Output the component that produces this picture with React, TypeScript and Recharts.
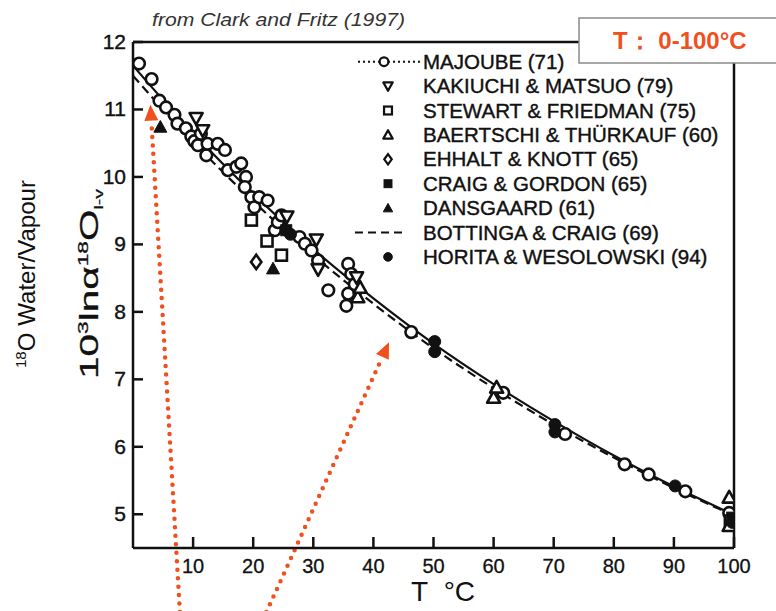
import React from 'react';
import { ComposedChart, Line, Scatter, XAxis, YAxis, Legend, ReferenceLine } from 'recharts';

// ---- data (T °C, 10^3 ln alpha) ----
const xTicks = [10, 20, 30, 40, 50, 60, 70, 80, 90, 100];
const yTicks = [5, 6, 7, 8, 9, 10, 11, 12];
const rightTicks = [6, 7, 8, 9, 10, 11];

const majoubeCurve = [
  { x: 0, y: 11.65 }, { x: 10, y: 10.65 }, { x: 20, y: 9.75 }, { x: 30, y: 8.93 },
  { x: 40, y: 8.2 }, { x: 50, y: 7.53 }, { x: 60, y: 6.93 }, { x: 70, y: 6.38 },
  { x: 80, y: 5.87 }, { x: 90, y: 5.41 }, { x: 100, y: 4.99 },
];
const bottingaCurve = [
  { x: 0, y: 11.5 }, { x: 10, y: 10.52 }, { x: 20, y: 9.64 }, { x: 30, y: 8.84 },
  { x: 40, y: 8.12 }, { x: 50, y: 7.46 }, { x: 60, y: 6.87 }, { x: 70, y: 6.33 },
  { x: 80, y: 5.84 }, { x: 90, y: 5.39 }, { x: 100, y: 4.98 },
];
const majoubePts = [
  { x: 1.0, y: 11.68 }, { x: 3.1, y: 11.45 }, { x: 4.4, y: 11.13 }, { x: 5.5, y: 11.03 },
  { x: 6.9, y: 10.92 }, { x: 7.4, y: 10.79 }, { x: 8.8, y: 10.72 }, { x: 9.7, y: 10.6 },
  { x: 10.2, y: 10.53 }, { x: 10.8, y: 10.47 }, { x: 11.3, y: 10.64 }, { x: 12.2, y: 10.32 },
  { x: 12.4, y: 10.49 }, { x: 14.1, y: 10.49 }, { x: 15.3, y: 10.4 }, { x: 15.8, y: 10.1 },
  { x: 17.2, y: 10.15 }, { x: 18.0, y: 10.2 }, { x: 18.8, y: 10.0 }, { x: 18.6, y: 9.85 },
  { x: 19.7, y: 9.7 }, { x: 20.2, y: 9.55 }, { x: 21.0, y: 9.7 }, { x: 22.4, y: 9.65 },
  { x: 23.6, y: 9.21 }, { x: 24.1, y: 9.33 }, { x: 24.7, y: 9.43 }, { x: 27.7, y: 9.11 },
  { x: 28.6, y: 9.01 }, { x: 29.7, y: 8.91 }, { x: 30.8, y: 8.76 }, { x: 32.5, y: 8.32 },
  { x: 35.8, y: 8.71 }, { x: 36.3, y: 8.56 }, { x: 35.8, y: 8.27 }, { x: 35.5, y: 8.09 },
  { x: 36.9, y: 8.41 }, { x: 46.3, y: 7.7 }, { x: 61.6, y: 6.8 }, { x: 71.9, y: 6.19 },
  { x: 81.8, y: 5.74 }, { x: 85.8, y: 5.59 }, { x: 91.9, y: 5.34 }, { x: 99.2, y: 5.02 },
];
const kakiuchiPts = [
  { x: 10.5, y: 10.87 }, { x: 11.6, y: 10.69 }, { x: 25.6, y: 9.41 }, { x: 30.5, y: 9.07 },
  { x: 30.8, y: 8.63 }, { x: 37.2, y: 8.51 },
];
const stewartPts = [
  { x: 19.7, y: 9.36 }, { x: 22.3, y: 9.05 }, { x: 24.7, y: 8.84 }, { x: 99.4, y: 4.9 },
];
const baertschiPts = [
  { x: 37.4, y: 8.22 }, { x: 37.8, y: 8.36 }, { x: 60.0, y: 6.73 }, { x: 60.5, y: 6.88 },
  { x: 99.2, y: 5.25 }, { x: 99.2, y: 4.83 },
];
const ehhaltPts = [{ x: 20.5, y: 8.74 }];
const craigPts = [{ x: 25.5, y: 9.21 }, { x: 99.7, y: 4.95 }];
const dansgaardPts = [{ x: 4.55, y: 10.74 }, { x: 23.3, y: 8.64 }];
const horitaPts = [
  { x: 26.2, y: 9.15 }, { x: 50.2, y: 7.56 }, { x: 50.2, y: 7.41 }, { x: 70.2, y: 6.33 },
  { x: 70.2, y: 6.22 }, { x: 90.2, y: 5.42 }, { x: 99.7, y: 4.88 },
];
const legendNames = [
  'MAJOUBE (71)', 'KAKIUCHI & MATSUO (79)', 'STEWART & FRIEDMAN (75)',
  'BAERTSCHI & THÜRKAUF (60)', 'EHHALT & KNOTT (65)', 'CRAIG & GORDON (65)',
  'DANSGAARD (61)', 'BOTTINGA & CRAIG (69)', 'HORITA & WESOLOWSKI (94)',
];
const arrowA = [{ x: 7.8, y: 3.55 }, { x: 2.9, y: 11.07 }];
const arrowB = [{ x: 22.2, y: 3.55 }, { x: 42.6, y: 7.55 }];

// ---- styles ----
const INK = '#111';
const RED = '#f0501e';
const FONT = '"Liberation Sans", Arial, sans-serif';

type MK = 'oc' | 'dt' | 'os' | 'ut' | 'od' | 'fs' | 'ft' | 'fc';

const drawMarker = (kind: MK, cx: number, cy: number, s = 1, key?: string) => {
  const sw = 2.6 * (s < 1 ? 0.85 : 1);
  const w = 6.5 * s;
  switch (kind) {
    case 'oc':
      return <circle key={key} cx={cx} cy={cy} r={5.8 * s} fill="#fff" stroke={INK} strokeWidth={sw} />;
    case 'fc':
      return <circle key={key} cx={cx} cy={cy} r={6 * s} fill={INK} stroke={INK} strokeWidth={1} />;
    case 'dt':
      return <polygon key={key} points={`${cx - w},${cy - w * 0.8} ${cx + w},${cy - w * 0.8} ${cx},${cy + w}`} fill="#fff" stroke={INK} strokeWidth={sw} strokeLinejoin="round" />;
    case 'ut':
      return <polygon key={key} points={`${cx - w},${cy + w * 0.8} ${cx + w},${cy + w * 0.8} ${cx},${cy - w}`} fill="#fff" stroke={INK} strokeWidth={sw} strokeLinejoin="round" />;
    case 'ft':
      return <polygon key={key} points={`${cx - w},${cy + w * 0.8} ${cx + w},${cy + w * 0.8} ${cx},${cy - w}`} fill={INK} stroke={INK} strokeWidth={1} strokeLinejoin="round" />;
    case 'os':
      return <rect key={key} x={cx - 5.5 * s} y={cy - 5.5 * s} width={11 * s} height={11 * s} fill="#fff" stroke={INK} strokeWidth={sw} />;
    case 'fs':
      return <rect key={key} x={cx - 5.5 * s} y={cy - 5.5 * s} width={11 * s} height={11 * s} fill={INK} stroke={INK} strokeWidth={1} />;
    case 'od':
      return <polygon key={key} points={`${cx},${cy - w * 1.1} ${cx + w * 0.8},${cy} ${cx},${cy + w * 1.1} ${cx - w * 0.8},${cy}`} fill="#fff" stroke={INK} strokeWidth={sw} />;
  }
  return null;
};

const shapeOf = (kind: MK) => (p: any) => drawMarker(kind, p.cx, p.cy);

const XTick = (p: any) => {
  const { x, y, payload } = p;
  return (
    <g>
      <line x1={x} y1={y} x2={x} y2={y - 11} stroke={INK} strokeWidth={2.5} />
      <text x={x} y={y + 25} textAnchor="middle" fontSize={20} fontFamily={FONT} fill={INK} stroke={INK} strokeWidth={0.3}>{payload.value}</text>
    </g>
  );
};
const YTick = (p: any) => {
  const { x, y, payload } = p;
  return (
    <g>
      <line x1={x} y1={y} x2={x + 10} y2={y} stroke={INK} strokeWidth={2.5} />
      <text x={x - 7} y={y + 7} textAnchor="end" fontSize={21} fontFamily={FONT} fill={INK} stroke={INK} strokeWidth={0.4}>{payload.value}</text>
    </g>
  );
};
const RTick = (p: any) => {
  const { x, y } = p;
  return <line x1={x} y1={y} x2={x - 10} y2={y} stroke={INK} strokeWidth={2.5} />;
};

const ArrowShape = (p: any) => {
  const { x1, y1, x2, y2 } = p;
  const dx = x2 - x1, dy = y2 - y1;
  const len = Math.hypot(dx, dy) || 1;
  const ux = dx / len, uy = dy / len;
  const hl = 16, hw = 7;
  const bx = x2 - ux * hl, by = y2 - uy * hl;
  const pts = `${x2},${y2} ${bx - uy * hw},${by + ux * hw} ${bx + uy * hw},${by - ux * hw}`;
  return (
    <g>
      <line x1={x1} y1={y1} x2={bx} y2={by} stroke={RED} strokeWidth={4.5} strokeDasharray="0 8.5" strokeLinecap="round" />
      <polygon points={pts} fill={RED} />
    </g>
  );
};

const YLabel = () => (
  <g>
    <text transform="translate(98,284) rotate(-90)" textAnchor="middle" fontFamily={FONT} fontSize={25} fill={INK}
      stroke={INK} strokeWidth={0.3} textLength={190} lengthAdjust="spacingAndGlyphs">
      <tspan>10</tspan>
      <tspan fontSize={14} dy={-10}>3</tspan>
      <tspan dy={10}>lnα</tspan>
      <tspan fontSize={14} dy={-10}>18</tspan>
      <tspan dy={10}>O</tspan>
      <tspan fontSize={12} dy={5} strokeWidth={0.2}>l-v</tspan>
    </text>
    <text transform="translate(35,274) rotate(-90)" textAnchor="middle" fontFamily={FONT} fontSize={24} fill={INK}
      textLength={188} lengthAdjust="spacingAndGlyphs">
      <tspan fontSize={15} dy={-9}>18</tspan>
      <tspan dy={9}>O Water/Vapour</tspan>
    </text>
  </g>
);

const XLabel = () => (
  <text x={443} y={601} textAnchor="middle" fontFamily={FONT} fontSize={28} fill={INK}>T{'\u00a0\u00a0'}°C</text>
);

const legendKinds: (MK | 'line-dash')[] = ['oc', 'dt', 'os', 'ut', 'od', 'fs', 'ft', 'line-dash', 'fc'];

const LegendContent = () => (
  <svg width={380} height={230} style={{ display: 'block' }}>
    {legendNames.map((name, i) => {
      const cy = 13.7 + i * 24.4;
      const k = legendKinds[i];
      let icon: any = null;
      if (i === 0) {
        icon = (
          <g>
            <line x1={8} y1={cy} x2={70} y2={cy} stroke={INK} strokeWidth={2} strokeDasharray="2 3" />
            {drawMarker('oc', 34, cy, 0.75)}
          </g>
        );
      } else if (k === 'line-dash') {
        icon = <line x1={5} y1={cy} x2={56} y2={cy} stroke={INK} strokeWidth={2.2} strokeDasharray="8 5" />;
      } else {
        icon = drawMarker(k as MK, 38, cy, 0.72);
      }
      return (
        <g key={name}>
          {icon}
          <text x={73} y={cy + 7} fontFamily={FONT} fontSize={20.5} fill={INK} stroke={INK} strokeWidth={0.4}>{name}</text>
        </g>
      );
    })}
  </svg>
);

export default function App() {
  return (
    <div style={{ position: 'absolute', left: 0, top: 0, width: 776, height: 611, background: '#fff' }}>
      <ComposedChart width={776} height={611} margin={{ top: 41, right: 41, bottom: 0, left: 0 }}>
        <XAxis type="number" dataKey="x" domain={[0, 100]} ticks={xTicks} tickSize={0} tickMargin={0} tick={<XTick />}
          tickLine={false} axisLine={{ stroke: INK, strokeWidth: 2.5 }} height={63} allowDataOverflow
          label={<XLabel />} />
        <XAxis xAxisId="top" orientation="top" type="number" dataKey="x" domain={[0, 100]} height={1} tick={false}
          tickLine={false} axisLine={{ stroke: INK, strokeWidth: 2.5 }} />
        <YAxis type="number" domain={[4.5, 12]} ticks={yTicks} width={133} tickSize={0} tickMargin={0} tick={<YTick />}
          tickLine={false} axisLine={{ stroke: INK, strokeWidth: 2.5 }} allowDataOverflow label={<YLabel />} />
        <YAxis yAxisId="r" orientation="right" type="number" domain={[4.5, 12]} ticks={rightTicks} width={1} tickSize={0}
          tickMargin={0} tick={<RTick />} tickLine={false} axisLine={{ stroke: INK, strokeWidth: 2.5 }} />
        <Legend layout="vertical" align="center" verticalAlign="middle" content={<LegendContent />}
          wrapperStyle={{ position: 'absolute', left: 350, top: 48, width: 380, height: 230 }} />
        <Line data={bottingaCurve} dataKey="y" type="monotone" stroke={INK} strokeWidth={2.2} strokeDasharray="9 5" dot={false} isAnimationActive={false} legendType="none" />
        <Line data={majoubeCurve} dataKey="y" type="monotone" stroke={INK} strokeWidth={2.2} dot={false} isAnimationActive={false} legendType="none" />
        <Scatter data={majoubePts} dataKey="y" shape={shapeOf('oc')} isAnimationActive={false} />
        <Scatter data={kakiuchiPts} dataKey="y" shape={shapeOf('dt')} isAnimationActive={false} />
        <Scatter data={stewartPts} dataKey="y" shape={shapeOf('os')} isAnimationActive={false} />
        <Scatter data={baertschiPts} dataKey="y" shape={shapeOf('ut')} isAnimationActive={false} />
        <Scatter data={ehhaltPts} dataKey="y" shape={shapeOf('od')} isAnimationActive={false} />
        <Scatter data={craigPts} dataKey="y" shape={shapeOf('fs')} isAnimationActive={false} />
        <Scatter data={dansgaardPts} dataKey="y" shape={shapeOf('ft')} isAnimationActive={false} />
        <Scatter data={horitaPts} dataKey="y" shape={shapeOf('fc')} isAnimationActive={false} />
        <ReferenceLine segment={arrowA} ifOverflow="visible" shape={ArrowShape} />
        <ReferenceLine segment={arrowB} ifOverflow="visible" shape={ArrowShape} />
      </ComposedChart>
      <svg width={776} height={611} style={{ position: 'absolute', left: 0, top: 0, pointerEvents: 'none' }}>
        <text x={152} y={26} fontFamily={FONT} fontStyle="italic" fontSize={18} fill="#333" textLength={253} lengthAdjust="spacingAndGlyphs">from Clark and Fritz (1997)</text>
        <rect x={579} y={18} width={220} height={45} fill="#fff" stroke="#8a8a8a" strokeWidth={1.5} />
        <text x={613} y={49} fontFamily={FONT} fontSize={24} fontWeight="bold" fill={RED}>T： 0-100°C</text>
      </svg>
    </div>
  );
}
